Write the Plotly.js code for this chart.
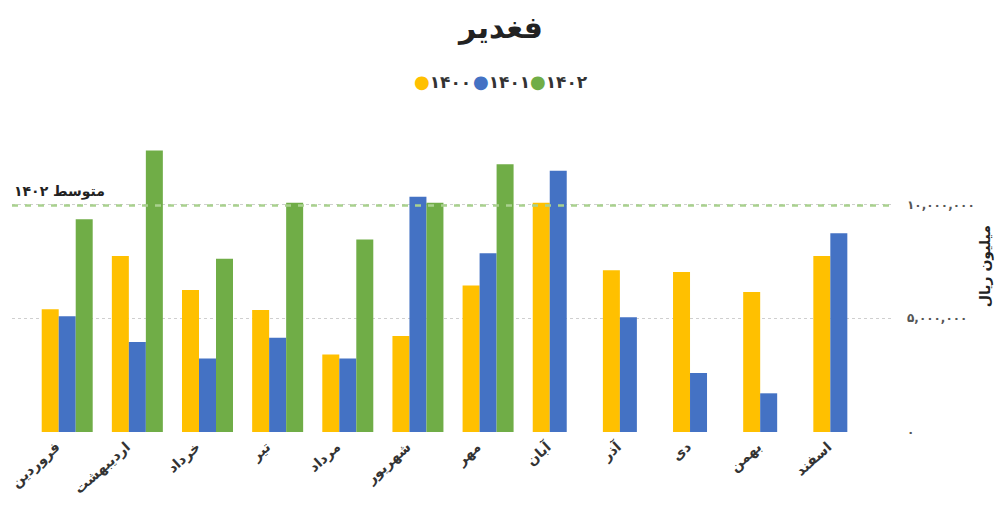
<!DOCTYPE html>
<html>
<head>
<meta charset="utf-8">
<script src="https://cdn.plot.ly/plotly-3.0.1.min.js"></script>
<style>html,body{margin:0;padding:0;background:#fff;}#chart{width:1002px;height:517px;}</style>
</head>
<body>
<div id="chart"></div>
<script>
const months = ["فروردین","اردیبهشت","خرداد","تیر","مرداد","شهریور","مهر","آبان","آذر","دی","بهمن","اسفند"];
const v1400 = [5.39e6, 7.73e6, 6.24e6, 5.36e6, 3.41e6, 4.22e6, 6.44e6, 10.07e6, 7.11e6, 7.03e6, 6.15e6, 7.73e6];
const v1401 = [5.09e6, 3.95e6, 3.23e6, 4.14e6, 3.23e6, 10.34e6, 7.85e6, 11.48e6, 5.04e6, 2.59e6, 1.70e6, 8.73e6];
const v1402 = [9.35e6, 12.37e6, 7.61e6, 10.07e6, 8.46e6, 10.07e6, 11.77e6, null, null, null, null, null];
const seriesNames = ["۱۴۰۰","۱۴۰۱","۱۴۰۲"];
const colors = ["#FFC000","#4472C4","#70AD47"];
const yTickVals = [0, 5e6, 10e6];
const yTickText = ["۰","۵,۰۰۰,۰۰۰","۱۰,۰۰۰,۰۰۰"];
const avgLabel = "متوسط ۱۴۰۲";
const titleText = "فغدیر";
const yTitle = "میلیون ریال";

const vals1402 = v1402.filter(v => v !== null);
const avg1402 = vals1402.reduce((a,b)=>a+b,0)/vals1402.length;

const font = "DejaVu Sans, sans-serif";
const legendIds = ["legend", "legend2", "legend3"];
const legendLeft = [374, 433, 490];

const data = [v1400, v1401, v1402].map((vals, i) => ({
  type: "bar", x: months, y: vals, name: seriesNames[i],
  marker: {color: colors[i]}, showlegend: false, hoverinfo: "skip"
}));
seriesNames.forEach((n, i) => data.push({
  type: "scatter", mode: "markers", x: [null], y: [null], legend: legendIds[i],
  name: "<span style='color:" + colors[i] + ";font-size:18px'>●</span><b>" + n + "</b>",
  marker: {color: "rgba(0,0,0,0)", size: 1}, showlegend: true
}));

const layout = {
  width: 1002, height: 517,
  margin: {l: 12, r: 110, t: 100, b: 85},
  paper_bgcolor: "#fff", plot_bgcolor: "#fff",
  font: {family: font, color: "#333"},
  title: {text: "<b>" + titleText + "</b>", font: {size: 30, color: "#222", family: font},
          x: 0.5, xref: "container", y: 0.946, yanchor: "middle"},
  barmode: "group", bargap: 0.273, bargroupgap: 0,
  showlegend: true,
  xaxis: {type: "category", range: [-0.787, 11.758], tickangle: -42,
          tickfont: {size: 14, color: "#333", family: font, weight: "bold"}, showgrid: false,
          showline: false, zeroline: false, ticks: "", ticklabelshift: -11, ticklabelstandoff: 3},
  yaxis: {side: "right", range: [0, 14.58e6], tickvals: yTickVals, ticktext: yTickText.map(t => "<b>" + t + "</b>"),
          tickfont: {size: 12, color: "#555", family: font},
          showgrid: true, gridcolor: "#cfcfcf", griddash: "dot", gridwidth: 1,
          zeroline: false, showline: false, ticks: "", ticklabelstandoff: 14,
          title: {text: "<b>" + yTitle + "</b>", font: {size: 14, color: "#222", family: font}, standoff: 6}},
  shapes: [{type: "line", xref: "paper", x0: 0, x1: 1, yref: "y", y0: avg1402, y1: avg1402,
            line: {color: "#A9D18E", width: 2.5, dash: "6px,7px"}, layer: "above"}],
  annotations: [{xref: "paper", x: 0, xanchor: "left", yref: "y", y: avg1402, yanchor: "bottom",
                 yshift: 3, text: "<b>" + avgLabel + "</b>", showarrow: false,
                 font: {size: 14, color: "#222", family: font}}]
};
legendIds.forEach((id, i) => {
  layout[id] = {orientation: "h", x: legendLeft[i] / 1002, xanchor: "left", xref: "container",
                y: 0.841, yanchor: "middle", yref: "container", bgcolor: "rgba(0,0,0,0)",
                font: {size: 17, color: "#333", family: font}, itemwidth: 30};
});
Plotly.newPlot("chart", data, layout, {displayModeBar: false, staticPlot: true});
</script>
</body>
</html>
